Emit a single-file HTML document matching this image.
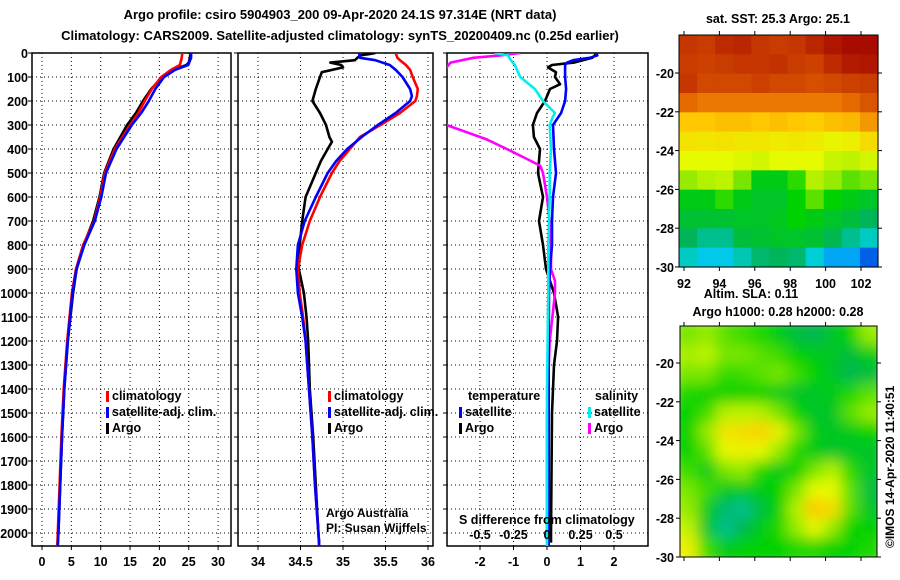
<!DOCTYPE html>
<html><head><meta charset="utf-8"><style>
body{margin:0;background:#fff;overflow:hidden;}
svg{display:block;font-family:"Liberation Sans",sans-serif;}
.b{font-weight:bold;font-size:13px;}
.t{font-weight:bold;font-size:12.5px;}
</style></head><body>
<svg id="s" width="900" height="580" viewBox="0 0 900 580">
<defs>
<clipPath id="c1"><rect x="32" y="53" width="199" height="493"/></clipPath>
<clipPath id="c2"><rect x="238" y="53" width="195" height="493"/></clipPath>
<clipPath id="c3"><rect x="447" y="53" width="201" height="493"/></clipPath>
<filter id="blur" x="0" y="0" width="1" height="1"><feGaussianBlur stdDeviation="7"/></filter>
<clipPath id="cm2"><rect x="680" y="326" width="197" height="231"/></clipPath>
</defs>
<text class="b" x="340" y="19" text-anchor="middle">Argo profile: csiro 5904903_200 09-Apr-2020 24.1S 97.314E (NRT data)</text>
<text class="b" x="340" y="40" text-anchor="middle">Climatology: CARS2009. Satellite-adjusted climatology: synTS_20200409.nc (0.25d earlier)</text>
<g id="g"></g>
</svg>
<script>
// ---- data ----
const depthTClim=[0,20,50,70,100,150,200,250,300,400,500,600,700,800,900,1000,1200,1400,1600,1800,2000,2054];
const tempClim=[23.9,23.8,23.5,22,20.3,18.7,17.5,16.4,15,12.4,10.7,9.9,8.9,7,5.8,5.1,4.3,3.7,3.3,3.0,2.7,2.6];
const tempSat=[25.4,25.4,24.9,22.7,20.8,19.3,18.2,16.9,15.3,12.7,10.9,10.1,9.0,7.2,5.9,5.2,4.4,3.8,3.4,3.1,2.8,2.7];
const depthTArgo=[0,20,40,50,70,100,150,200,250,300,400,500,600,700,800,900,1000,1200,1400,1600,1800,2000,2040];
const tempArgo=[25.3,25.2,25.0,24.6,22.5,20.5,18.6,17.2,16.0,14.5,12.2,10.6,9.8,8.7,7.1,5.9,5.3,4.4,3.8,3.4,3.1,2.8,2.7];
const depthS=[0,20,30,50,70,100,150,180,200,250,300,350,400,450,500,600,700,800,900,1000,1100,1200,1400,1600,1800,2000,2054];
const salClim=[35.62,35.64,35.67,35.74,35.79,35.82,35.88,35.87,35.85,35.67,35.44,35.2,35.08,34.96,34.87,34.73,34.61,34.52,34.47,34.49,34.53,34.56,34.6,34.64,34.67,34.71,34.72];
const salSat=[35.19,35.2,35.38,35.55,35.62,35.7,35.79,35.81,35.79,35.62,35.41,35.22,35.05,34.92,34.82,34.68,34.55,34.47,34.45,34.47,34.52,34.56,34.6,34.64,34.67,34.71,34.72];
const depthSArgo=[0,5,10,30,40,50,60,80,100,150,200,250,300,350,370,400,450,500,600,700,800,900,1000,1100,1200,1400,1600,1800,2000,2040];
const salArgo=[35.38,35.3,35.2,35.14,34.85,34.98,35.0,34.75,34.73,34.68,34.64,34.73,34.8,34.84,34.87,34.82,34.74,34.68,34.56,34.52,34.49,34.48,34.54,34.57,34.59,34.61,34.65,34.68,34.71,34.72];
const depthDT=[0,10,20,30,40,50,100,150,200,250,300,400,500,600,700,800,900,1000,1200,1500,2000,2054];
const dTSat=[1.46,1.5,1.28,0.78,0.6,0.54,0.54,0.57,0.54,0.42,0.18,0.21,0.27,0.18,0.15,0.15,0.09,0.06,0.05,0.05,0.05,0.05];
const depthDTArgo=[0,20,40,50,60,80,100,130,150,200,250,300,350,400,500,600,700,800,900,1000,1100,1200,1300,1400,1500,2000,2040];
const dTArgo=[1.5,1.35,0.8,0.15,0.03,0.27,0.24,0.39,0.09,-0.06,-0.3,-0.42,-0.39,-0.21,-0.27,-0.12,-0.24,-0.12,-0.03,0.21,0.33,0.3,0.21,0.18,0.15,0.12,0.12];
const depthDS=[0,10,30,50,100,150,200,250,270,300,400,500,600,800,1000,1400,2000,2054];
const dSSat=[-0.39,-0.29,-0.27,-0.24,-0.2,-0.09,-0.03,0.06,0.04,0.02,0.03,0.02,0.02,0.01,0.01,0,0,0];
const depthDSArgo=[0,10,20,40,60,80,280,300,330,360,400,450,470,500,600,700,800,900,950,1000,1100,1200,1500,2000,2040];
const dSArgo=[-0.2,-0.35,-0.55,-0.72,-0.75,-1.0,-1.0,-0.75,-0.6,-0.45,-0.3,-0.12,-0.05,-0.03,0,0.02,0.03,0.03,0.06,0.06,0.04,0.02,0,0,0];
const depthTicks=[0,100,200,300,400,500,600,700,800,900,1000,1100,1200,1300,1400,1500,1600,1700,1800,1900,2000];
const tTicks=[0,5,10,15,20,25,30];
const sTicks=[34,34.5,35,35.5,36];
const sTickLabels=["34","34.5","35","35.5","36"];
const dTicks=[-2,-1,0,1,2];
const dsTickLabels=["-0.5","-0.25","0","0.25","0.5"];
const dsTicks=[-0.5,-0.25,0,0.25,0.5];
// SST map grid values (0..1 colour scale), rows -18..-30 by 1 deg, cols 92..103
const sstGrid=[
[0.9,0.89,0.92,0.93,0.9,0.89,0.9,0.93,0.96,0.98,0.98],
[0.89,0.88,0.89,0.9,0.9,0.91,0.89,0.88,0.92,0.95,0.96],
[0.9,0.87,0.87,0.87,0.88,0.87,0.87,0.86,0.87,0.88,0.89],
[0.82,0.8,0.8,0.8,0.8,0.8,0.8,0.8,0.8,0.82,0.85],
[0.7,0.7,0.71,0.71,0.7,0.71,0.7,0.69,0.71,0.72,0.76],
[0.65,0.64,0.65,0.64,0.64,0.63,0.64,0.63,0.61,0.62,0.66],
[0.6,0.6,0.6,0.59,0.58,0.6,0.6,0.6,0.57,0.56,0.58],
[0.52,0.55,0.56,0.5,0.4,0.4,0.45,0.55,0.52,0.48,0.5],
[0.4,0.4,0.45,0.4,0.38,0.38,0.42,0.48,0.42,0.4,0.38],
[0.37,0.37,0.37,0.38,0.38,0.39,0.42,0.4,0.38,0.36,0.33],
[0.33,0.3,0.3,0.36,0.37,0.38,0.38,0.37,0.34,0.3,0.27],
[0.27,0.24,0.24,0.28,0.32,0.33,0.32,0.26,0.2,0.2,0.12]];
// SLA map grid values, rows -18..-30 by 1 deg, cols 92..103
const slaGrid=[
[0.5,0.52,0.48,0.46,0.44,0.4,0.36,0.34,0.38,0.42,0.52],
[0.54,0.56,0.5,0.5,0.48,0.46,0.42,0.4,0.38,0.36,0.4],
[0.5,0.5,0.45,0.46,0.48,0.5,0.46,0.42,0.38,0.34,0.36],
[0.44,0.42,0.42,0.42,0.42,0.4,0.38,0.38,0.4,0.44,0.48],
[0.42,0.46,0.55,0.56,0.55,0.5,0.42,0.38,0.38,0.48,0.52],
[0.42,0.52,0.64,0.66,0.68,0.62,0.5,0.4,0.38,0.4,0.42],
[0.42,0.48,0.6,0.62,0.6,0.52,0.44,0.4,0.38,0.38,0.38],
[0.46,0.4,0.5,0.52,0.44,0.4,0.42,0.5,0.55,0.45,0.38],
[0.5,0.46,0.4,0.4,0.4,0.42,0.5,0.6,0.6,0.48,0.36],
[0.52,0.4,0.32,0.3,0.36,0.42,0.55,0.7,0.66,0.48,0.38],
[0.56,0.38,0.3,0.34,0.4,0.44,0.52,0.6,0.52,0.42,0.42],
[0.62,0.46,0.4,0.42,0.42,0.42,0.44,0.44,0.42,0.42,0.44]];

// ---- helpers ----
const NS='http://www.w3.org/2000/svg';
const G=document.getElementById('g');
function mk(tag,attrs,parent){const e=document.createElementNS(NS,tag);for(const k in attrs)e.setAttribute(k,attrs[k]);(parent||G).appendChild(e);return e;}
const yD=d=>53+d*0.24;
const xT=v=>42+v*5.87;
const xS=v=>258+(v-34)*85;
const xDT=v=>547+v*33.5;
const xDS=v=>547+v*134;
function pts(ds,vs,fx){return ds.map((d,i)=>fx(vs[i]).toFixed(1)+','+yD(d).toFixed(1)).join(' ');}
function txt(x,y,s,cls,anchor,parent){const e=mk('text',{x:x,y:y,'class':cls||'t','text-anchor':anchor||'start'},parent);e.textContent=s;return e;}

// ---- panels ----
const panels=[{x0:32,x1:231,clip:'c1',ticks:tTicks,fx:xT,labels:tTicks.map(String),name:'temperature-panel'},
{x0:238,x1:433,clip:'c2',ticks:sTicks,fx:xS,labels:sTickLabels,name:'salinity-panel'},
{x0:447,x1:648,clip:'c3',ticks:dTicks,fx:xDT,labels:dTicks.map(String),name:'difference-panel'}];
panels.forEach(p=>{
  const g=mk('g',{});
  
  
  depthTicks.forEach(d=>{
    const l=mk('line',{x1:p.x0,x2:p.x1,y1:yD(d),y2:yD(d),stroke:'#000','stroke-width':1,'stroke-dasharray':'1,3'},g);
    
    
    mk('line',{x1:p.x0-4,x2:p.x0,y1:yD(d),y2:yD(d),stroke:'#000'},g);
  });
  p.ticks.forEach((v,i)=>{
    const x=p.fx(v);
    const l=mk('line',{x1:x,x2:x,y1:53,y2:546,stroke:'#000','stroke-width':1,'stroke-dasharray':'1,3'},g);
    
    
    mk('line',{x1:x,x2:x,y1:546,y2:550,stroke:'#000'},g);
    const t=txt(x,566,p.labels[i],'t','middle',g);
    
    
  });
  const r=mk('rect',{x:p.x0,y:53,width:p.x1-p.x0,height:493,fill:'none',stroke:'#000','stroke-width':1.5},g);
  
  
});
depthTicks.forEach(d=>{
  const t=txt(28,yD(d)+5,String(d),'t','end');
  
  
});
function line(ds,vs,fx,col,clip,name,w){
  const e=mk('polyline',{points:pts(ds,vs,fx),fill:'none',stroke:col,'stroke-width':w||2.6,'stroke-linejoin':'round','clip-path':'url(#'+clip+')'});
  
  
}
line(depthTArgo,tempArgo,xT,'#000','c1','temp-argo-line');
line(depthTClim,tempClim,xT,'#f00','c1','temp-climatology-line');
line(depthTClim,tempSat,xT,'#00f','c1','temp-satellite-line');
line(depthSArgo,salArgo,xS,'#000','c2','sal-argo-line');
line(depthS,salClim,xS,'#f00','c2','sal-climatology-line');
line(depthS,salSat,xS,'#00f','c2','sal-satellite-line');
line(depthDTArgo,dTArgo,xDT,'#000','c3','temp-diff-argo-line');
line(depthDSArgo,dSArgo,xDS,'#f0f','c3','sal-diff-argo-line');
line(depthDT,dTSat,xDT,'#00f','c3','temp-diff-satellite-line');
line(depthDS,dSSat,xDS,'#0ee','c3','sal-diff-satellite-line');

// legends
function leg(x,y,col,s,name){
  const g=mk('g',{});
  
  
  mk('rect',{x:x,y:y-9,width:3,height:11,fill:col},g);
  txt(x+6,y,s,'t','start',g);
}
leg(106,400,'#f00','climatology','legend-climatology');
leg(106,416,'#00f','satellite-adj. clim.','legend-satellite');
leg(106,432,'#000','Argo','legend-argo');
leg(328,400,'#f00','climatology','legend-climatology-2');
leg(328,416,'#00f','satellite-adj. clim.','legend-satellite-2');
leg(328,432,'#000','Argo','legend-argo-2');
txt(468,400,'temperature');
leg(459,416,'#00f','satellite','legend-temp-satellite');
leg(459,432,'#000','Argo','legend-temp-argo');
txt(595,400,'salinity');
leg(588,416,'#0ee','satellite','legend-sal-satellite');
leg(588,432,'#f0f','Argo','legend-sal-argo');
let t1=txt(326,517,'Argo Australia','','start');t1.setAttribute('style','font-size:12px');
let t2=txt(326,532,'PI: Susan Wijffels','','start');t2.setAttribute('style','font-size:12px');
txt(459,524,'S difference from climatology');
dsTicks.forEach((v,i)=>{const t=txt(xDS(v),539,dsTickLabels[i],'t','middle');});

// ---- maps ----
function cmap(v){
  const stops=[[0,[0,0,140]],[0.15,[0,120,255]],[0.25,[0,210,230]],[0.33,[0,180,90]],[0.42,[0,210,0]],[0.52,[150,235,0]],[0.6,[230,250,0]],[0.7,[255,200,0]],[0.8,[235,120,0]],[0.88,[205,65,0]],[1,[160,0,0]]];
  for(let i=1;i<stops.length;i++){if(v<=stops[i][0]){const a=stops[i-1],b=stops[i],f=(v-a[0])/(b[0]-a[0]);return 'rgb('+a[1].map((c,k)=>Math.round(c+(b[1][k]-c)*f)).join(',')+')';}}
  return 'rgb(160,0,0)';
}
function drawMap(grid,x0,y0,w,h,name,blur,clip){
  const g=mk('g',{});
  
  
  const inner=mk('g',blur?{filter:'url(#blur)'}:{},clip?mk('g',{'clip-path':'url(#'+clip+')'},g):g);
  const rows=grid.length,cols=grid[0].length,cw=w/cols,ch=h/rows;
  grid.forEach((row,r)=>row.forEach((v,c)=>{
    const pad=blur?8:0;
    const xx=x0+c*cw-(c==0?pad:0), yy=y0+r*ch-(r==0?pad:0);
    mk('rect',{x:xx,y:yy,width:cw+0.6+(c==0||c==cols-1?pad:0),height:ch+0.6+(r==0||r==rows-1?pad:0),fill:cmap(v)},inner);
  }));
  mk('rect',{x:x0,y:y0,width:w,height:h,fill:'none',stroke:'#000','stroke-width':1},g);
}
drawMap(sstGrid,679,35,199,232,'sst-map',false,null);
drawMap(slaGrid,680,326,197,231,'sla-map',true,'cm2');
const lat1=[-20,-22,-24,-26,-28,-30];
lat1.forEach(l=>{const y=267-(l+30)*19.4;mk('line',{x1:675,x2:679,y1:y,y2:y,stroke:'#000'});mk('line',{x1:878,x2:882,y1:y,y2:y,stroke:'#000'});const t=txt(674,y+5,String(l),'t','end');});
lat1.forEach(l=>{const y=557-(l+30)*19.4;mk('line',{x1:676,x2:680,y1:y,y2:y,stroke:'#000'});mk('line',{x1:877,x2:881,y1:y,y2:y,stroke:'#000'});const t=txt(674,y+5,String(l),'t','end');});
const lons=[92,94,96,98,100,102];
lons.forEach(l=>{const x=684+(l-92)*17.7;mk('line',{x1:x,x2:x,y1:267,y2:271,stroke:'#000'});mk('line',{x1:x,x2:x,y1:31,y2:35,stroke:'#000'});mk('line',{x1:x,x2:x,y1:322,y2:326,stroke:'#000'});mk('line',{x1:x,x2:x,y1:557,y2:561,stroke:'#000'});const t=txt(x,288,String(l),'t','middle');});
txt(778,23,'sat. SST: 25.3 Argo: 25.1','t','middle');
txt(751,298,'Altim. SLA: 0.11','t','middle');
txt(778,316,'Argo h1000: 0.28 h2000: 0.28','t','middle');
const cr=txt(0,0,'©IMOS 14-Apr-2020 11:40:51','','start');
cr.setAttribute('transform','translate(894,548) rotate(-90)');
cr.setAttribute('style','font-size:12px');


</script>
</body></html>
